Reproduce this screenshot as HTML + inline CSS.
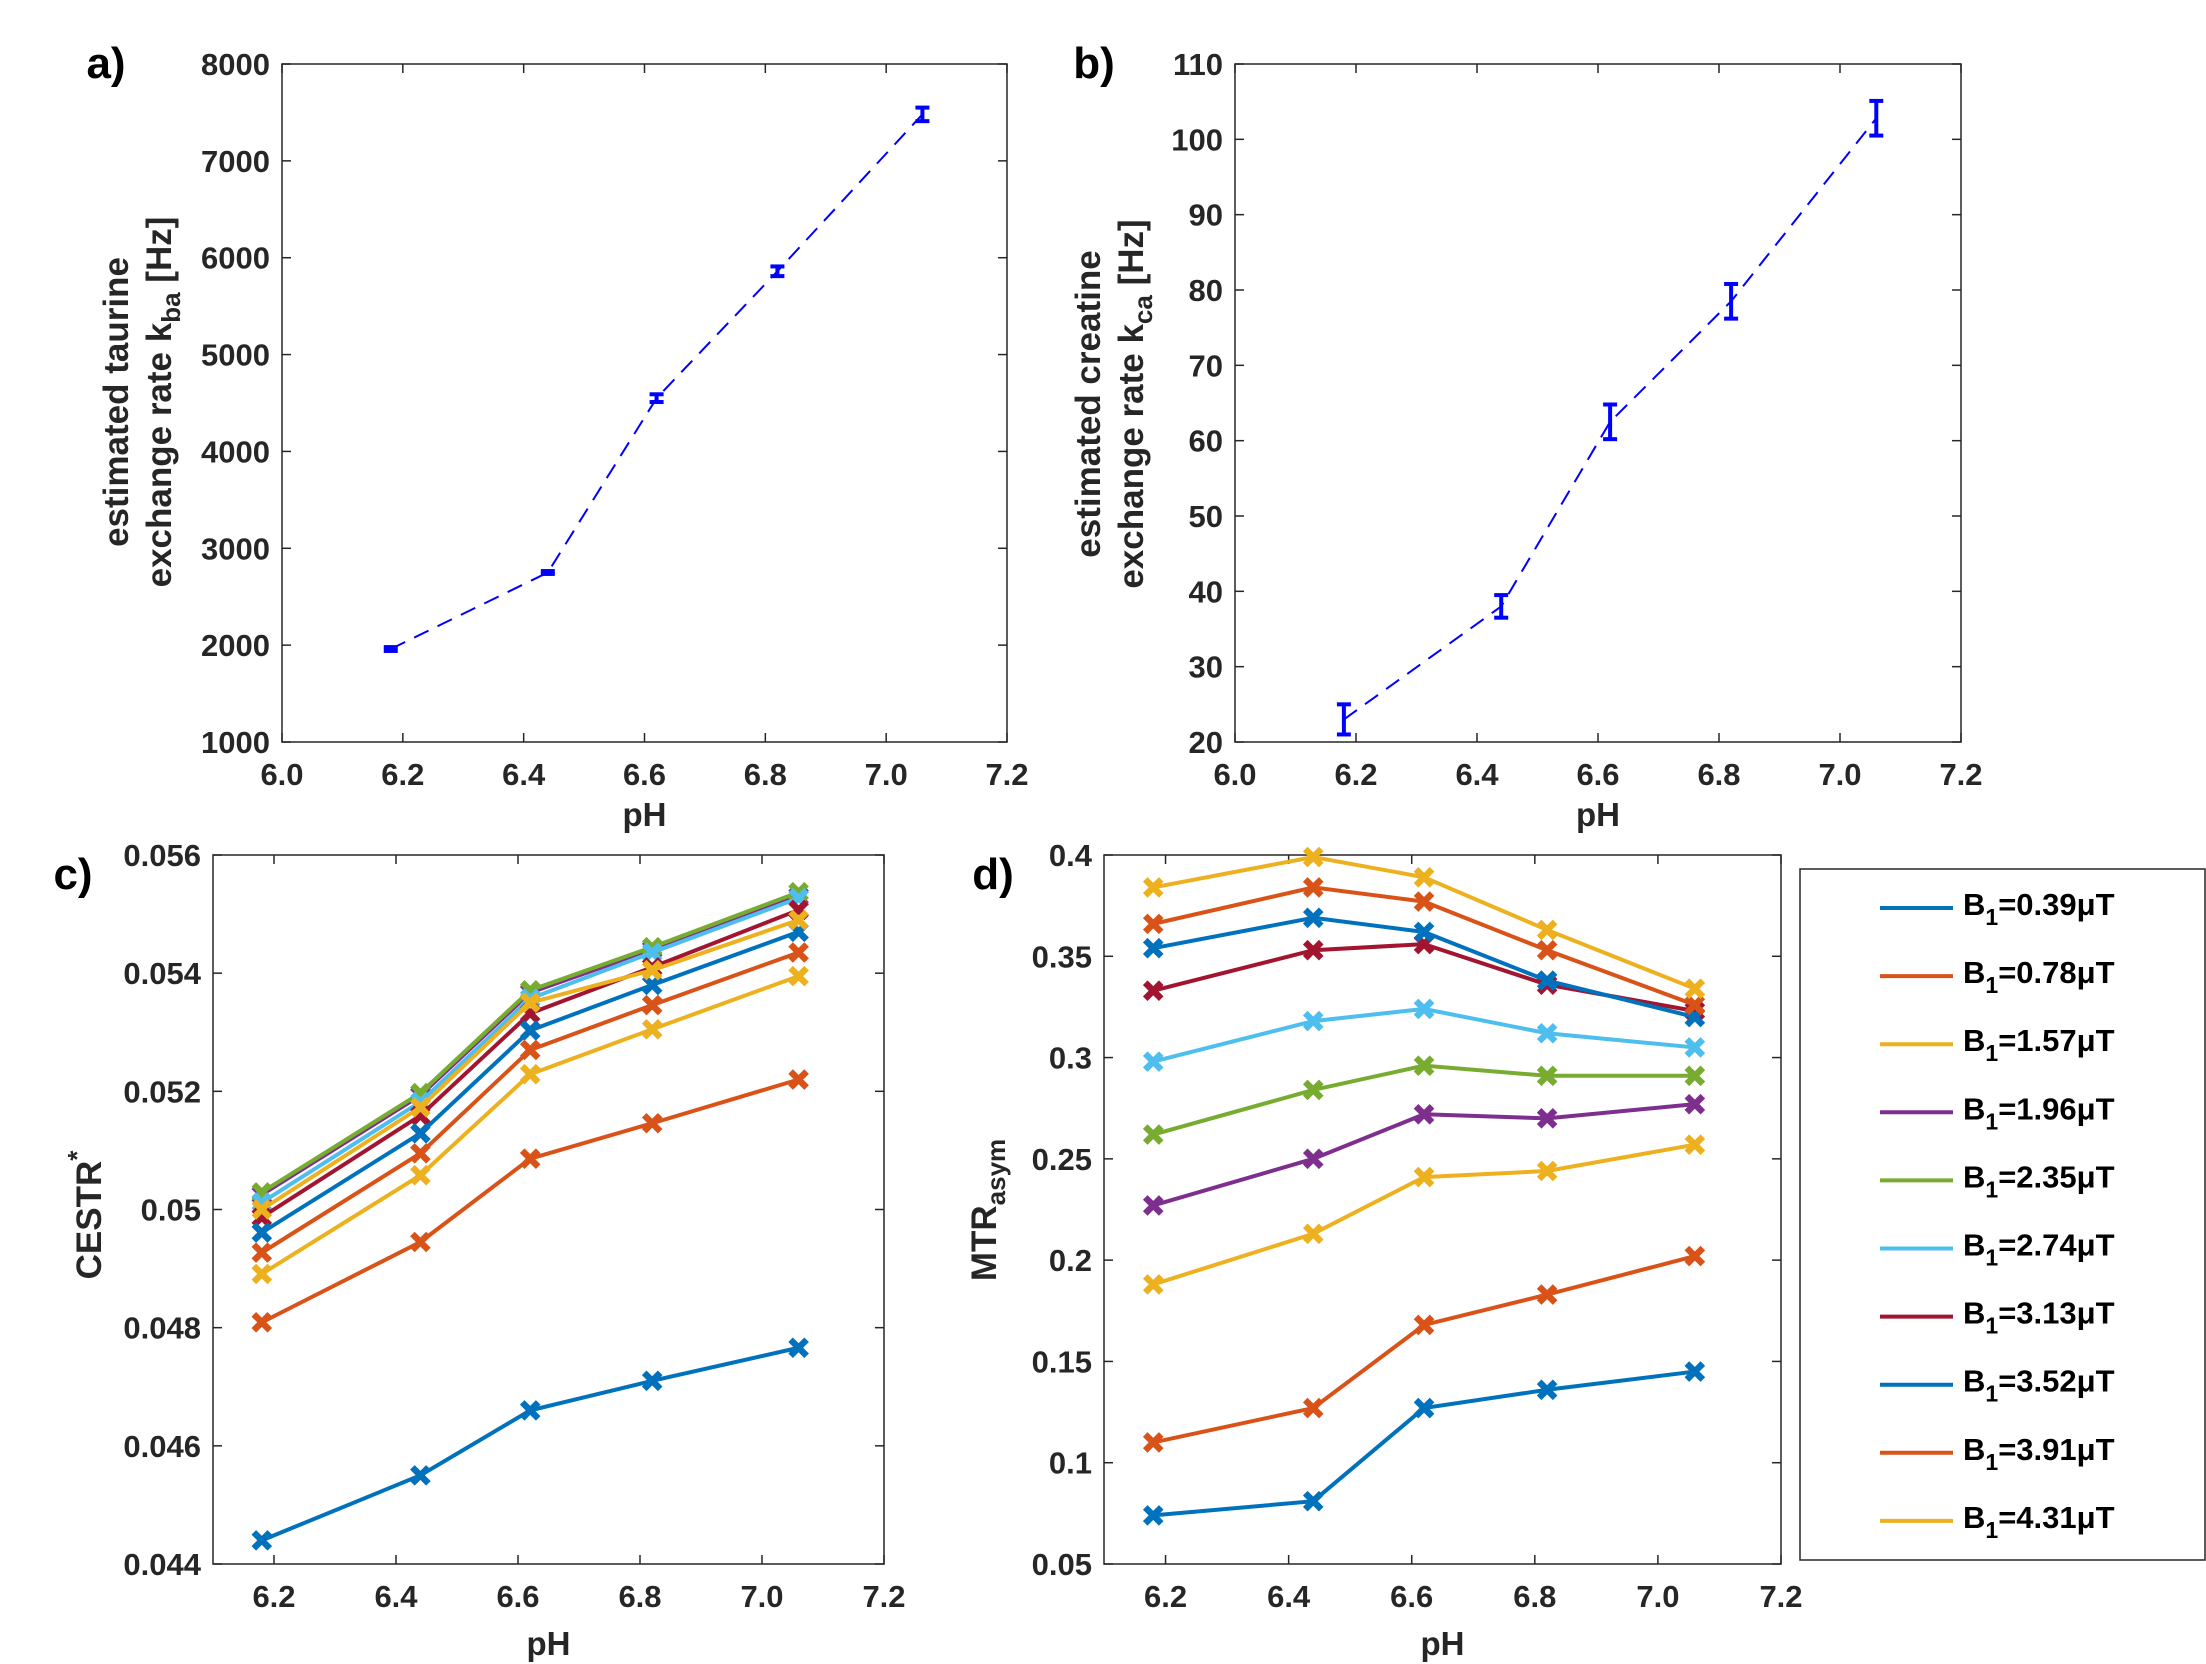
<!DOCTYPE html>
<html><head><meta charset="utf-8"><style>
html,body{margin:0;padding:0;background:#fff;}
svg{display:block;font-family:"Liberation Sans",Arial,sans-serif;font-weight:bold;}
</style></head><body>
<svg id="fig" width="2206" height="1664" viewBox="0 0 2206 1664" xmlns="http://www.w3.org/2000/svg">
<rect x="0" y="0" width="2206" height="1664" fill="#fff"/>
<text x="106" y="78" font-size="44" fill="#000" text-anchor="middle">a)</text>
<text x="1094" y="78" font-size="44" fill="#000" text-anchor="middle">b)</text>
<text x="73" y="889" font-size="44" fill="#000" text-anchor="middle">c)</text>
<text x="993" y="889" font-size="44" fill="#000" text-anchor="middle">d)</text>
<text transform="translate(128,402) rotate(-90)" font-size="35" fill="#262626" text-anchor="middle">estimated taurine</text>
<text transform="translate(171,402) rotate(-90)" font-size="35" fill="#262626" text-anchor="middle">exchange rate k<tspan dy="9" font-size="26">ba</tspan><tspan dy="-9"> [Hz]</tspan></text>
<text transform="translate(1100,404) rotate(-90)" font-size="35" fill="#262626" text-anchor="middle">estimated creatine</text>
<text transform="translate(1143,404) rotate(-90)" font-size="35" fill="#262626" text-anchor="middle">exchange rate k<tspan dy="9" font-size="26">ca</tspan><tspan dy="-9"> [Hz]</tspan></text>
<text transform="translate(101,1215) rotate(-90)" font-size="35" fill="#262626" text-anchor="middle">CESTR<tspan dy="-15" font-size="26">*</tspan></text>
<text transform="translate(996,1210) rotate(-90)" font-size="35" fill="#262626" text-anchor="middle">MTR<tspan dy="9" font-size="26">asym</tspan></text>
<g id="legend">
<rect x="1800" y="869" width="405" height="691" fill="#fff" stroke="#262626" stroke-width="1.5"/>
</g>
</svg>
<script>
// ---- data ----
const ph = [6.18, 6.44, 6.62, 6.82, 7.06];
const kbaValues = [1960, 2750, 4550, 5860, 7480];
const kbaErrors = [20, 15, 40, 50, 70];
const kcaValues = [23, 38, 62.5, 78.5, 102.8];
const kcaErrors = [2, 1.5, 2.3, 2.3, 2.3];
const b1Labels = ["0.39","0.78","1.57","1.96","2.35","2.74","3.13","3.52","3.91","4.31"];
const seriesColors = ["#0072BD","#D95319","#EDB120","#7E2F8E","#77AC30","#4DBEEE","#A2142F","#0072BD","#D95319","#EDB120"];
const cestr039 = [0.0444, 0.0455, 0.0466, 0.0471, 0.04766];
const cestr078 = [0.04809, 0.04945, 0.05086, 0.05146, 0.0522];
const cestr157 = [0.04891, 0.05058, 0.05229, 0.05305, 0.05395];
const cestr196 = [0.05025, 0.05193, 0.05367, 0.0544, 0.0553];
const cestr235 = [0.05029, 0.05197, 0.05371, 0.05444, 0.05537];
const cestr274 = [0.05012, 0.05182, 0.05357, 0.05435, 0.05527];
const cestr313 = [0.04987, 0.05159, 0.05332, 0.0541, 0.05507];
const cestr352 = [0.04961, 0.05129, 0.05303, 0.0538, 0.0547];
const cestr391 = [0.04927, 0.05095, 0.0527, 0.05346, 0.05435];
const cestr431 = [0.05000, 0.05173, 0.0535, 0.05405, 0.0549];
const mtr039 = [0.074, 0.081, 0.127, 0.136, 0.145];
const mtr078 = [0.110, 0.127, 0.168, 0.183, 0.202];
const mtr157 = [0.188, 0.213, 0.241, 0.244, 0.257];
const mtr196 = [0.227, 0.250, 0.272, 0.270, 0.277];
const mtr235 = [0.262, 0.284, 0.296, 0.291, 0.291];
const mtr274 = [0.298, 0.318, 0.324, 0.312, 0.305];
const mtr313 = [0.333, 0.353, 0.356, 0.336, 0.323];
const mtr352 = [0.354, 0.369, 0.362, 0.338, 0.320];
const mtr391 = [0.366, 0.384, 0.377, 0.353, 0.326];
const mtr431 = [0.384, 0.399, 0.389, 0.363, 0.334];
const xTicksAB = ["6.0","6.2","6.4","6.6","6.8","7.0","7.2"];
const xTicksCD = ["6.2","6.4","6.6","6.8","7.0","7.2"];
const yTicksA = [1000,2000,3000,4000,5000,6000,7000,8000];
const yTicksB = [20,30,40,50,60,70,80,90,100,110];
const yTicksC = ["0.044","0.046","0.048","0.05","0.052","0.054","0.056"];
const yTicksD = ["0.05","0.1","0.15","0.2","0.25","0.3","0.35","0.4"];

const cestrSeries = [cestr039,cestr078,cestr157,cestr196,cestr235,cestr274,cestr313,cestr352,cestr391,cestr431];
const mtrSeries = [mtr039,mtr078,mtr157,mtr196,mtr235,mtr274,mtr313,mtr352,mtr391,mtr431];

const NS = "http://www.w3.org/2000/svg";
const svg = document.getElementById('fig');
function mk(tag, attrs, parent) {
  const e = document.createElementNS(NS, tag);
  for (const k in attrs) e.setAttribute(k, attrs[k]);
  (parent || svg).appendChild(e);
  return e;
}
function makeAxes(name, L, T, R, B, x0, x1, y0, y1) {
  const g = mk('g', {});
  
  
  const sx = v => L + (v - x0) / (x1 - x0) * (R - L);
  const sy = v => B - (v - y0) / (y1 - y0) * (B - T);
  return {g, sx, sy, L, T, R, B};
}
function drawFrame(ax, xt, yt, xlabelY) {
  const {g, sx, sy, L, T, R, B} = ax;
  const r = mk('rect', {x: L, y: T, width: R - L, height: B - T, fill: 'none', stroke: '#262626', 'stroke-width': 1.5}, g);
  
  
  xt.forEach(t => {
    const x = sx(parseFloat(t));
    mk('line', {x1: x, y1: B, x2: x, y2: B - 9, stroke: '#262626', 'stroke-width': 1.5}, g);
    mk('line', {x1: x, y1: T, x2: x, y2: T + 9, stroke: '#262626', 'stroke-width': 1.5}, g);
    const tx = mk('text', {x: x, y: B + 43, 'font-size': 31, fill: '#262626', 'text-anchor': 'middle'}, g);
    
    
    tx.textContent = t;
  });
  yt.forEach(t => {
    const y = sy(parseFloat(t));
    mk('line', {x1: L, y1: y, x2: L + 9, y2: y, stroke: '#262626', 'stroke-width': 1.5}, g);
    mk('line', {x1: R, y1: y, x2: R - 9, y2: y, stroke: '#262626', 'stroke-width': 1.5}, g);
    const ty = mk('text', {x: L - 12, y: y + 11, 'font-size': 31, fill: '#262626', 'text-anchor': 'end'}, g);
    
    
    ty.textContent = String(t);
  });
  const xl = mk('text', {x: (L + R) / 2, y: xlabelY, 'font-size': 33, fill: '#262626', 'text-anchor': 'middle'}, g);
  
  
  xl.textContent = 'pH';
}
function drawErr(ax, vals, errs) {
  const {g, sx, sy} = ax;
  const pts = ph.map((p, i) => sx(p) + ',' + sy(vals[i])).join(' ');
  const pl = mk('polyline', {points: pts, fill: 'none', stroke: '#0000FF', 'stroke-width': 2, 'stroke-dasharray': '16,10'}, g);
  
  
  ph.forEach((p, i) => {
    const x = sx(p), ya = sy(vals[i] - errs[i]), yb = sy(vals[i] + errs[i]);
    const eg = mk('g', {stroke: '#0000FF', 'stroke-width': 4}, g);
    
    
    mk('line', {x1: x, y1: ya, x2: x, y2: yb}, eg);
    mk('line', {x1: x - 7, y1: ya, x2: x + 7, y2: ya}, eg);
    mk('line', {x1: x - 7, y1: yb, x2: x + 7, y2: yb}, eg);
  });
}
function drawSeries(ax, series, prefix) {
  const {g, sx, sy} = ax;
  series.forEach((vals, si) => {
    const sg = mk('g', {}, g);
    
    
    const pts = ph.map((p, i) => sx(p) + ',' + sy(vals[i])).join(' ');
    mk('polyline', {points: pts, fill: 'none', stroke: seriesColors[si], 'stroke-width': 4}, sg);
    ph.forEach((p, i) => {
      const x = sx(p), y = sy(vals[i]), s = 8;
      const m = mk('path', {d: `M${x-s},${y-s}L${x+s},${y+s}M${x-s},${y+s}L${x+s},${y-s}`, stroke: seriesColors[si], 'stroke-width': 6.5, fill: 'none'}, sg);
      
      
    });
  });
}
const axA = makeAxes('panel-a', 282, 64, 1007, 742, 6.0, 7.2, 1000, 8000);
drawFrame(axA, xTicksAB, yTicksA, 826);
drawErr(axA, kbaValues, kbaErrors);
const axB = makeAxes('panel-b', 1235, 64, 1961, 742, 6.0, 7.2, 20, 110);
drawFrame(axB, xTicksAB, yTicksB, 826);
drawErr(axB, kcaValues, kcaErrors);
const axC = makeAxes('panel-c', 213, 855, 884, 1564, 6.1, 7.2, 0.044, 0.056);
drawFrame(axC, xTicksCD, yTicksC, 1655);
drawSeries(axC, cestrSeries, 'cestr');
const axD = makeAxes('panel-d', 1104, 855, 1781, 1564, 6.1, 7.2, 0.05, 0.4);
drawFrame(axD, xTicksCD, yTicksD, 1655);
drawSeries(axD, mtrSeries, 'mtr');

// legend
const lg = document.getElementById('legend');
b1Labels.forEach((lab, i) => {
  const y = 908 + i * 68.1;
  const eg = mk('g', {}, lg);
  
  
  mk('line', {x1: 1880, y1: y, x2: 1953, y2: y, stroke: seriesColors[i], 'stroke-width': 4}, eg);
  const t = mk('text', {x: 1963, y: y + 7, 'font-size': 31, fill: '#000'}, eg);
  t.innerHTML = 'B<tspan dy="10" font-size="23">1</tspan><tspan dy="-10">=' + lab + 'μT</tspan>';
});
</script>
</body></html>
